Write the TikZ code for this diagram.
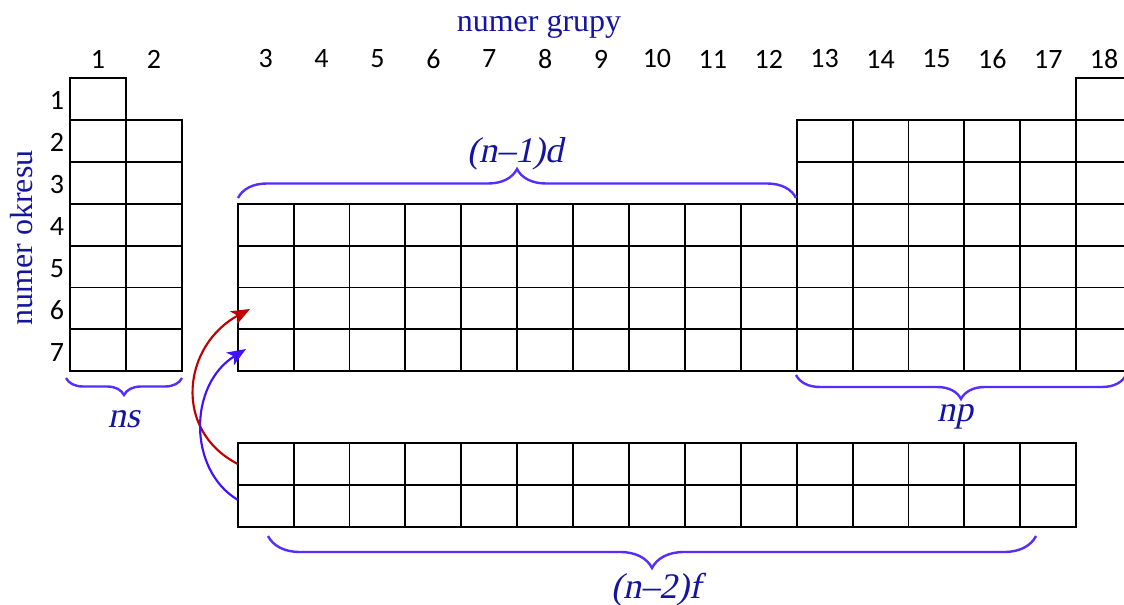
\documentclass[tikz,border=0pt]{standalone}
\usepackage{fontspec}
\setmainfont{Liberation Serif}
\newfontfamily\serf[Ligatures=TeX]{Liberation Serif}
\newfontfamily\serfit[Ligatures=TeX,FakeSlant=0.21]{Liberation Serif}
\newfontfamily\numfont{Carlito}
\usetikzlibrary{decorations.pathreplacing,arrows.meta}
\definecolor{txtblue}{RGB}{20,20,160}
\definecolor{brblue}{RGB}{85,45,255}
\definecolor{arrred}{RGB}{192,0,0}
\definecolor{arrblue}{RGB}{64,16,255}
\begin{document}
\begin{tikzpicture}[x=0.75pt,y=-0.75pt,
  cell/.style={draw, line width=1.4pt, minimum width=41.925pt, minimum height=31.425pt,
    inner sep=0pt, outer sep=0pt, anchor=north west},
  num/.style={font=\numfont\fontsize{21}{21}\selectfont, inner sep=0pt},
  axislabel/.style={font=\serf\fontsize{24}{24}\selectfont, text=txtblue, inner sep=0pt, anchor=base},
  blocklabel/.style={font=\serfit\fontsize{27}{27}\selectfont, text=txtblue, inner sep=0pt, anchor=base},
  curly/.style={draw=brblue, line width=1.8pt, decorate, decoration={brace, amplitude=#1}},
  arrow/.style={line width=1.6pt, -{Stealth[length=14pt,width=11pt,inset=3.5pt]}}]
\useasboundingbox (0,0) rectangle (1124,605);
\clip (0,0) rectangle (1124,605);
% row 1
\node[cell] (c1-1) at (70,78) {};
\node[cell] (c1-18) at ({70+55.9*18},78) {};
% rows 2-3
\foreach \r in {2,3}{
  \foreach \c in {1,2,13,14,15,16,17,18}{
    \pgfmathtruncatemacro\p{\c<3 ? \c-1 : \c}
    \node[cell] (c\r-\c) at ({70+55.9*\p},{78+41.9*(\r-1)}) {};
  }
}
% rows 4-7
\foreach \r in {4,...,7}{
  \foreach \c in {1,...,18}{
    \pgfmathtruncatemacro\p{\c<3 ? \c-1 : \c}
    \node[cell] (c\r-\c) at ({70+55.9*\p},{78+41.9*(\r-1)}) {};
  }
}
% f block
\foreach \r in {1,2}{
  \foreach \c in {3,...,17}{
    \node[cell] (f\r-\c) at ({70+55.9*\c},{443+41.9*(\r-1)}) {};
  }
}
% group numbers
\foreach \c in {1,...,18}{
  \pgfmathtruncatemacro\p{\c<3 ? \c-1 : \c}
  \node[num] (g\c) at ({70+55.9*(\p+0.5)},59) {\c};
}
% period numbers
\foreach \r in {1,...,7}{
  \node[num] (p\r) at (57,{78+41.9*(\r-0.5)+2}) {\r};
}
\node[axislabel] (grupy) at (539,32) {numer grupy};
\node[axislabel, rotate=90] (okres) at (32,238) {numer okresu};
% braces
\draw[curly=12.75pt] (182,378) -- (66,378);
\draw[curly=21.75pt] (238,198) -- (796,198);
\draw[curly=18pt] (1126,375) -- (796,375);
\draw[curly=24pt] (1036,536) -- (268,536);
\node[blocklabel] (ns) at (124,428) {ns};
\node[blocklabel] (np) at (955,422) {np};
\node[blocklabel] (nd) at (515,163) {(n–1)d};
\node[blocklabel] (nf) at (656,598) {(n–2)f};
% arrows
\coordinate (t6) at (250,309);
\coordinate (t7) at (246,349);
\draw[arrow, arrred] (f1-3.west) .. controls (172,430) and (183,345) .. (t6);
\draw[arrow, arrblue] ([yshift=4.5pt]f2-3.west) .. controls (188,470) and (188,385) .. (t7);
\end{tikzpicture}
\end{document}
